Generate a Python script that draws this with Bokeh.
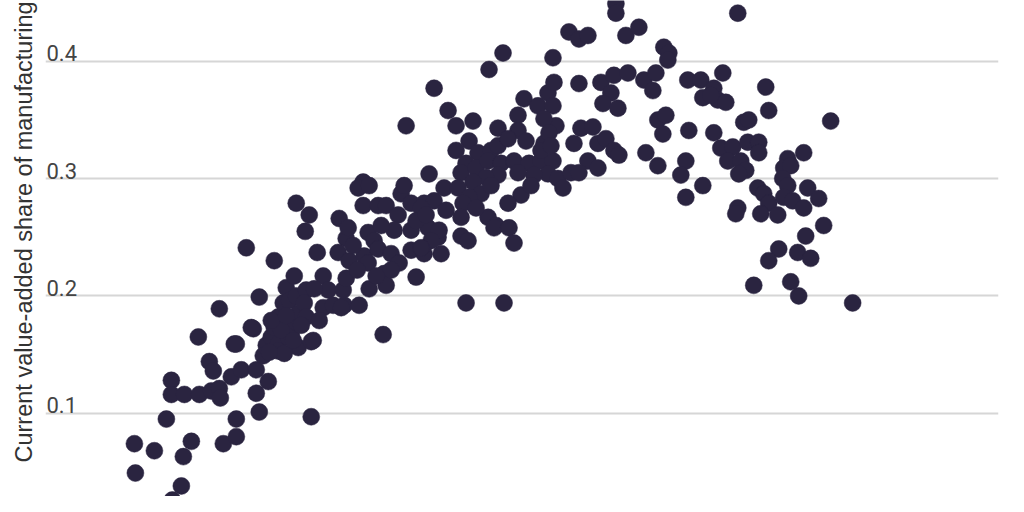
from bokeh.plotting import figure
from bokeh.models import FixedTicker, Title
from bokeh.core.properties import value
from bokeh.embed import file_html
from bokeh.resources import INLINE

# log GDP per capita (x, axis hidden) and manufacturing value-added share (y)
log_gdp_pc = [
    6.665, 6.765, 6.670, 6.855, 6.900, 6.910, 6.950, 6.825, 6.850, 6.850,
    6.915, 6.990, 7.050, 7.090, 7.095, 7.040, 7.060, 6.985, 7.090, 7.165,
    7.110, 7.175, 7.175, 7.150, 7.200, 7.225, 7.175,
    7.290, 7.275, 7.275, 7.335, 7.260, 7.290, 7.365, 7.250, 7.325, 7.350,
    7.385, 7.365, 7.385, 7.410, 7.425, 7.440, 7.465, 7.385, 7.450, 7.485,
    7.450, 7.485, 7.415, 7.435, 7.310, 7.400, 7.350, 7.425, 7.475, 7.340,
    7.460,
    7.550, 7.550, 7.475, 7.540, 7.520, 7.580, 7.690, 7.725, 7.735, 7.685,
    7.740, 7.610, 7.635, 7.525, 7.565, 7.515, 7.525, 7.560, 7.610, 7.660,
    7.715, 7.710, 7.725, 7.700, 7.500, 7.590,
    7.810, 7.785, 7.840, 7.810, 7.885, 7.925, 7.835, 7.865, 7.985, 7.965,
    7.815, 7.835, 7.885, 7.950, 7.990, 7.915, 7.925, 7.840, 7.790, 7.910,
    8.000, 7.780, 7.950, 7.875, 7.760, 7.900,
    8.015, 8.050, 8.115, 8.165, 8.215, 8.225, 8.140, 8.050, 8.135, 8.185,
    8.200, 8.050, 8.115, 8.075, 8.025, 8.165, 8.235, 8.100, 8.190, 8.150,
    8.100, 8.075, 8.125,
    8.275, 8.360, 8.340, 8.485, 8.440, 8.385, 8.450, 8.325, 8.300, 8.375,
    8.435, 8.485, 8.500, 8.485, 8.425, 8.360, 8.285, 8.400, 8.340, 8.310,
    8.300, 8.435, 8.375, 8.475, 8.300, 8.335, 8.325, 8.465, 8.450, 8.275,
    8.510, 8.585, 8.615, 8.685, 8.735, 8.765, 8.760, 8.760, 8.715, 8.775,
    8.715, 8.740, 8.585, 8.625, 8.535, 8.565, 8.640, 8.700, 8.760, 8.735,
    8.665, 8.585, 8.600, 8.535, 8.540, 8.565, 8.515, 8.785, 8.650, 8.700,
    8.750,
    8.840, 8.890, 8.935, 9.075, 9.075, 8.890, 9.000, 9.065, 9.135, 9.050,
    9.010, 9.085, 8.900, 8.960, 8.865, 8.985, 9.025, 9.065, 9.090, 8.935,
    8.985, 8.850, 8.890, 8.810, 9.125, 9.190,
    9.215, 9.275, 9.260, 9.315, 9.340, 9.335, 9.285, 9.325, 9.310, 9.440,
    9.225, 9.285, 9.425, 9.400, 9.510, 9.425, 9.435, 9.500, 9.510,
    9.565, 9.585, 9.625, 9.610, 9.550, 9.565, 9.600, 9.660, 9.735, 9.790,
    9.790, 9.635, 9.700, 9.725, 9.690, 9.685, 9.675, 9.785, 9.715, 9.740,
    9.685, 9.765,
    9.825, 9.840, 10.150, 9.815, 9.840, 9.800, 9.885, 9.935, 9.915, 9.950,
    10.015, 9.910, 9.935, 9.915, 9.960, 10.015, 10.035, 10.090, 10.115, 10.025,
    9.985, 10.050, 9.890, 9.840, 9.950, 9.990, 10.260,
]

mfg_share = [
    0.074, 0.068, 0.049, 0.026, 0.038, 0.063, 0.076, 0.095, 0.128, 0.116,
    0.116, 0.116, 0.119, 0.121, 0.113, 0.144, 0.136, 0.165, 0.189, 0.159,
    0.074, 0.080, 0.095, 0.131, 0.137, 0.241, 0.159,
    0.101, 0.117, 0.137, 0.127, 0.172, 0.199, 0.230, 0.173, 0.158, 0.165,
    0.159, 0.173, 0.182, 0.194, 0.207, 0.196, 0.217, 0.153, 0.168, 0.156,
    0.176, 0.185, 0.151, 0.165, 0.149, 0.171, 0.179, 0.183, 0.200, 0.152,
    0.162,
    0.097, 0.161, 0.279, 0.269, 0.255, 0.237, 0.266, 0.249, 0.258, 0.237,
    0.230, 0.217, 0.205, 0.205, 0.206, 0.194, 0.182, 0.162, 0.190, 0.192,
    0.192, 0.205, 0.215, 0.190, 0.175, 0.179,
    0.297, 0.292, 0.294, 0.277, 0.277, 0.277, 0.254, 0.247, 0.269, 0.256,
    0.234, 0.228, 0.240, 0.236, 0.228, 0.219, 0.209, 0.206, 0.192, 0.167,
    0.287, 0.222, 0.222, 0.217, 0.243, 0.260,
    0.294, 0.279, 0.279, 0.281, 0.292, 0.273, 0.304, 0.256, 0.258, 0.250,
    0.236, 0.239, 0.236, 0.216, 0.345, 0.377, 0.358, 0.275, 0.256, 0.247,
    0.241, 0.264, 0.269,
    0.345, 0.349, 0.332, 0.343, 0.393, 0.322, 0.324, 0.313, 0.305, 0.309,
    0.315, 0.328, 0.313, 0.303, 0.301, 0.297, 0.292, 0.287, 0.284, 0.279,
    0.267, 0.267, 0.275, 0.260, 0.251, 0.247, 0.194, 0.258, 0.294, 0.324,
    0.407, 0.354, 0.368, 0.362, 0.373, 0.382, 0.362, 0.403, 0.330, 0.345,
    0.351, 0.339, 0.341, 0.332, 0.334, 0.315, 0.313, 0.315, 0.315, 0.304,
    0.303, 0.305, 0.286, 0.279, 0.258, 0.245, 0.194, 0.300, 0.294, 0.324,
    0.328,
    0.425, 0.419, 0.422, 0.449, 0.441, 0.381, 0.382, 0.388, 0.390, 0.373,
    0.364, 0.360, 0.343, 0.344, 0.330, 0.330, 0.334, 0.324, 0.320, 0.315,
    0.309, 0.305, 0.305, 0.292, 0.422, 0.429,
    0.384, 0.390, 0.375, 0.412, 0.407, 0.401, 0.350, 0.354, 0.338, 0.341,
    0.322, 0.311, 0.315, 0.303, 0.294, 0.284, 0.384, 0.384, 0.369,
    0.377, 0.367, 0.365, 0.390, 0.371, 0.339, 0.326, 0.327, 0.331, 0.331,
    0.322, 0.315, 0.315, 0.307, 0.304, 0.275, 0.270, 0.292, 0.348, 0.350,
    0.441, 0.209,
    0.378, 0.358, 0.349, 0.287, 0.279, 0.270, 0.269, 0.317, 0.309, 0.311,
    0.322, 0.300, 0.294, 0.284, 0.281, 0.275, 0.292, 0.283, 0.260, 0.251,
    0.237, 0.232, 0.240, 0.230, 0.212, 0.200, 0.194,
]

y_ticks = [0.0, 0.1, 0.2, 0.3, 0.4]
y_tick_labels = ["0.1", "0.2", "0.3", "0.4"]

p = figure(width=1008, height=496, x_range=(6.22, 10.99), y_range=(0.029, 0.4518),
           output_backend="svg", toolbar_location=None, tools="",
           min_border_left=44, min_border_right=10, min_border_top=0, min_border_bottom=0)
p.outline_line_color = None
p.xaxis.visible = False
p.yaxis.visible = False
p.xgrid.visible = False
p.ygrid.ticker = FixedTicker(ticks=y_ticks)
p.ygrid.grid_line_color = "#d6d6d6"
p.ygrid.grid_line_width = 2

p.scatter(log_gdp_pc, mfg_share, size=17, fill_color="#2a2440", line_color="#2a2440", line_width=0.5)

# tick labels sit just above their gridlines, inside the plot
p.text(x=[6.22] * len(y_tick_labels), y=y_ticks[1:], text=y_tick_labels,
       text_font=value("Roboto"), text_font_size="22px", text_color="#444444",
       text_baseline="alphabetic", text_align="left", x_offset=1, y_offset=-8)

ylab = Title(text="Current value-added share of manufacturing", align="left", offset=34,
             text_font="Liberation Sans", text_font_size="23.5px", text_font_style="normal",
             text_color="#333333")
if "standoff" in Title.properties():
    ylab.standoff = 17
p.add_layout(ylab, "left")

open("out.html", "w").write(file_html(p, INLINE))
